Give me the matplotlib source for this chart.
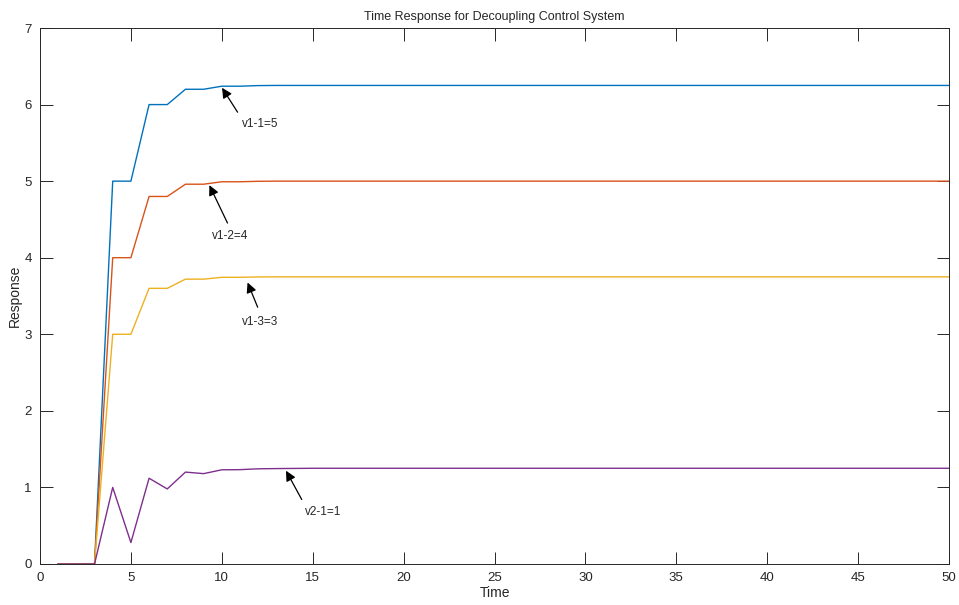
import matplotlib.pyplot as plt

plt.rcParams['font.family'] = ['Liberation Sans', 'DejaVu Sans']

time = list(range(1, 51))
v11 = [0, 0, 0, 5, 5, 6, 6, 6.2, 6.2, 6.24, 6.24, 6.248] + [6.25] * 38
v12 = [0, 0, 0, 4, 4, 4.8, 4.8, 4.96, 4.96, 4.992, 4.992, 4.998] + [5.0] * 38
v13 = [0, 0, 0, 3, 3, 3.6, 3.6, 3.72, 3.72, 3.744, 3.744, 3.749] + [3.75] * 38
v21 = [0, 0, 0, 1.0, 0.28, 1.12, 0.98, 1.2, 1.18, 1.23, 1.232, 1.243, 1.246, 1.248] + [1.25] * 36

series = [v11, v12, v13, v21]
colors = ['#0072BD', '#D95319', '#EDB120', '#7E2F8E']

# arrow tip, arrow tail, text centre (data units)
notes = [
    ("v1-1=5", (9.93, 6.25), (10.95, 5.87), (12.1, 5.74)),
    ("v1-2=4", (9.25, 4.98), (10.38, 4.42), (10.44, 4.28)),
    ("v1-3=3", (11.36, 3.71), (12.03, 3.32), (12.13, 3.16)),
    ("v2-1=1", (13.46, 1.25), (14.47, 0.81), (15.58, 0.68)),
]

fig = plt.figure(figsize=(9.59, 6.05), dpi=100)
ax = fig.add_axes([0.0417, 0.0678, 0.9479, 0.8859])

for y, c in zip(series, colors):
    ax.plot(time, y, color=c, lw=1.0)

for label, tip, tail, pos in notes:
    ax.annotate('', xy=tip, xytext=tail,
                arrowprops=dict(arrowstyle='-|>', color='k', lw=0.9, mutation_scale=15))
    ax.text(pos[0], pos[1], label, ha='center', va='center', fontsize=8.5, color='#262626')

ax.set_xlim(0, 50)
ax.set_ylim(0, 7)
ax.set_xticks(range(0, 51, 5))
ax.set_yticks(range(0, 8))
ax.tick_params(direction='in', length=9, width=0.7, top=True, right=True,
               labelsize=9.5, colors='#262626', pad=6)
for s in ax.spines.values():
    s.set_color('#262626')
    s.set_linewidth(0.7)

ax.set_title("Time Response for Decoupling Control System", fontsize=9, color='#262626', pad=6)
ax.set_xlabel("Time", fontsize=10, color='#262626', labelpad=1)
ax.set_ylabel("Response", fontsize=10, color='#262626', labelpad=2)

fig.savefig("out.png", dpi=100)
